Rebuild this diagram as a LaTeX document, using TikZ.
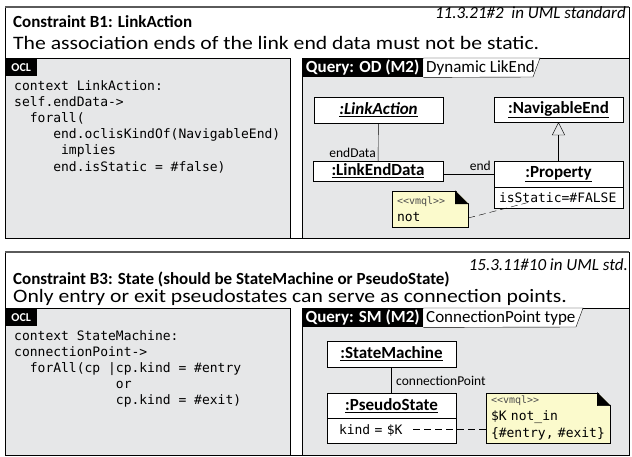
\documentclass[tikz,border=0pt]{standalone}
\usepackage{fontspec}
\setmainfont{Carlito}
\setmonofont{DejaVu Sans Mono}
\newfontfamily\subfont[FakeStretch=1.14]{Carlito}
\usetikzlibrary{arrows.meta, positioning, calc}

\definecolor{boxgray}{RGB}{230,231,232}
\definecolor{notefill}{RGB}{251,250,204}
\definecolor{framegray}{RGB}{90,90,90}
\newcommand{\vmqlfont}{\fontsize{10}{12}\selectfont\ttfamily\color{black!70}}

\tikzset{
  ctitle/.style={anchor=west, inner sep=0pt, font=\fontsize{17}{20}\selectfont\bfseries},
  csub/.style={anchor=west, inner sep=0pt, font=\subfont\fontsize{19}{21}\selectfont},
  cref/.style={anchor=east, inner sep=0pt, font=\fontsize{17}{20}\selectfont\itshape},
  tabblack/.style={fill=black, text=white, anchor=north west, inner sep=0pt, font=\fontsize{17}{20}\selectfont\bfseries},
  tabtext/.style={anchor=west, inner sep=0pt, font=\fontsize{17}{20}\selectfont},
  code/.style={anchor=north west, align=left, inner sep=0pt, font=\fontsize{13}{16.2}\selectfont\ttfamily},
  obj/.style={draw, fill=white, minimum width=129pt, minimum height=26pt, inner sep=0pt, font=\fontsize{17}{20}\selectfont\bfseries},
  attr/.style={draw, fill=white, anchor=north, minimum width=129pt, minimum height=21pt, inner xsep=5pt, inner ysep=0pt, text width=119pt, align=left, font=\fontsize{13}{15}\selectfont\ttfamily},
  role/.style={inner sep=0pt, font=\fontsize{13.5}{15}\selectfont},
  note/.style={draw, fill=notefill, inner xsep=5pt, inner ysep=3pt, align=left, font=\fontsize{13}{17}\selectfont\ttfamily},
  notelink/.style={dash pattern=on 7pt off 4pt},
  gen/.style={-{Triangle[open, width=13pt, length=13pt]}}
}

\begin{document}
\begin{tikzpicture}[x=1pt, y=-1pt]
    \useasboundingbox (0,0) rectangle (632,456);

    % B1
    \draw (5,7) rectangle (629,238);
    \draw[framegray, line width=2pt] (5,7) -- (629,7);
    \node[ctitle] (t1) at (13,22) {Constraint B1: LinkAction};
    \node[csub] (s1) at (13,43) {The association ends of the link end data must not be static.};
    \node[cref] (r1) at (626,13) {11.3.21\#2\ \ in UML standard};

    \draw[fill=boxgray] (5,58) rectangle (290,238);
    \node[tabblack, minimum width=32pt, minimum height=18pt, font=\fontsize{12}{14}\selectfont\bfseries] (o1) at (5,58) {OCL};
    \node[code] (c1) at (14,80) {context LinkAction:\\
        self.endData->\\
        \mbox{}~~forall(\\
        \mbox{}~~~~~end.oclisKindOf(NavigableEnd)\\
        \mbox{}~~~~~~implies\\
        \mbox{}~~~~~end.isStatic = \#false)};

    \draw[fill=boxgray] (302,58) rectangle (629,238);
    \node[tabblack, minimum width=121pt, minimum height=19pt] (q1) at (302,58) {Query: OD (M2)};
    \filldraw[fill=white] (q1.north east) -- (540,58) -- (533,77) -- (q1.south east);
    \node[tabtext] (qn1) at (426,67.5) {Dynamic LikEnd};

    \node[obj] (la) at (378.5,110) {\underline{\itshape :LinkAction}};
    \node[obj, minimum height=25pt] (ned) at (558.5,109.5) {\underline{:NavigableEnd}};
    \node[obj, minimum width=130pt, minimum height=20pt] (led) at (378,171) {\underline{:LinkEndData}};
    \node[obj] (prop) at (558.5,174) {\underline{:Property}};
    \node[attr] (propa) at (prop.south) {isStatic=\#FALSE};

    \draw (la) -- (led);
    \node[role, anchor=east] (ed) at (376,153) {endData};
    \draw (prop.west -| led.east) -- (prop.west);
    \node[role, anchor=east] (en) at (491,166) {end};
    \draw[gen] (prop.north) -- (ned.south);

    \node[note, minimum width=76pt, minimum height=36pt, text width=66pt] (n1) at (430,209)
        {{\vmqlfont <<vmql>>}\\not};
    \fill[boxgray] ([xshift=-13pt,yshift=1pt]n1.north east) -- ([xshift=1pt,yshift=1pt]n1.north east)
        -- ([xshift=1pt,yshift=-13pt]n1.north east) -- cycle;
    \filldraw ([xshift=-13pt]n1.north east) -- ([yshift=-13pt]n1.north east)
        -- ([xshift=-13pt,yshift=-13pt]n1.north east) -- cycle;
    \coordinate (stat) at (530,202);
    \draw[notelink] ([yshift=-9pt]n1.east) -- (stat);

    % B3
    \draw (5,252) rectangle (629,455);
    \draw[framegray, line width=2pt] (5,252) -- (629,252);
    \node[ctitle] (t2) at (13,279) {Constraint B3: State (should be StateMachine or PseudoState)};
    \node[csub] (s2) at (13,297) {Only entry or exit pseudostates can serve as connection points.};
    \node[cref] (r2) at (628,265) {15.3.11\#10 in UML std.};

    \draw[fill=boxgray] (5,308) rectangle (290,455);
    \node[tabblack, minimum width=32pt, minimum height=18pt, font=\fontsize{12}{14}\selectfont\bfseries] (o2) at (5,308) {OCL};
    \node[code] (c2) at (14,330) {context StateMachine:\\
        connectionPoint->\\
        \mbox{}~~forAll(cp |cp.kind = \#entry\\
        \mbox{}~~~~~~~~~~~~~or\\
        \mbox{}~~~~~~~~~~~~~cp.kind = \#exit)};

    \draw[fill=boxgray] (302,308) rectangle (629,455);
    \node[tabblack, minimum width=121pt, minimum height=19pt] (q2) at (302,308) {Query: SM (M2)};
    \filldraw[fill=white] (q2.north east) -- (583,308) -- (576,327) -- (q2.south east);
    \node[tabtext] (qn2) at (426,317.5) {ConnectionPoint type};

    \node[obj] (sm) at (391.5,354) {\underline{:StateMachine}};
    \node[obj, minimum height=25pt] (ps) at (391.5,405.5) {\underline{:PseudoState}};
    \node[attr, minimum height=25pt, inner xsep=12pt, text width=105pt] (psa) at (ps.south) {kind = \$K};
    \draw (sm) -- (ps);
    \node[role, anchor=west] (cp) at (396,381) {connectionPoint};

    \node[note, minimum width=124pt, minimum height=50pt, text width=114pt] (n2) at (548,418)
        {{\vmqlfont <<vmql>>}\\\$K not\_in\\\{\#entry, \#exit\}};
    \fill[boxgray] ([xshift=-13pt,yshift=1pt]n2.north east) -- ([xshift=1pt,yshift=1pt]n2.north east)
        -- ([xshift=1pt,yshift=-13pt]n2.north east) -- cycle;
    \filldraw ([xshift=-13pt]n2.north east) -- ([yshift=-13pt]n2.north east)
        -- ([xshift=-13pt,yshift=-13pt]n2.north east) -- cycle;
    \coordinate (kend) at (413,429);
    \draw[notelink] (kend) -- (kend -| n2.west);
\end{tikzpicture}
\end{document}
